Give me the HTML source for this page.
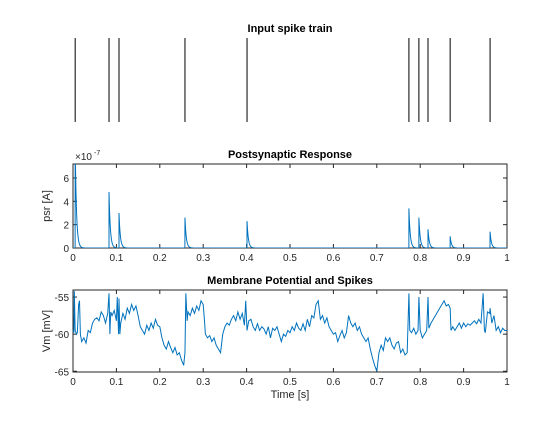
<!DOCTYPE html>
<html><head><meta charset="utf-8"><style>
body{margin:0;background:#fff;font-family:"Liberation Sans",sans-serif}
svg text{font-family:"Liberation Sans",sans-serif}
</style></head><body>
<svg id="fig" width="560" height="420" xmlns="http://www.w3.org/2000/svg">
<rect width="560" height="420" fill="#fff"/>
</svg>
<script>
const spikeTimes=[0.005,0.083,0.106,0.258,0.401,0.774,0.797,0.818,0.869,0.961];
const psrAmps=[9,4.8,3.0,2.6,2.3,3.4,2.6,1.6,1.0,1.4];
const xTicks=[0,0.1,0.2,0.3,0.4,0.5,0.6,0.7,0.8,0.9,1];
const psrTicks=[0,2,4,6];
const vmTicks=[-65,-60,-55];
const vmT=[
0,0.002,0.003,0.005,0.008,0.01,0.013,0.015,0.017,0.02,
0.025,0.03,0.035,0.04,0.045,0.05,0.055,0.06,0.065,0.07,
0.075,0.08,0.083,0.085,0.087,0.09,0.095,0.1,0.102,0.105,
0.106,0.108,0.11,0.115,0.12,0.125,0.13,0.135,0.14,0.145,
0.15,0.155,0.16,0.165,0.17,0.175,0.18,0.185,0.19,0.195,
0.2,0.205,0.21,0.215,0.22,0.225,0.23,0.235,0.24,0.245,
0.25,0.255,0.258,0.26,0.263,0.265,0.27,0.275,0.28,0.285,
0.29,0.295,0.3,0.303,0.305,0.31,0.315,0.32,0.325,0.33,
0.335,0.34,0.345,0.35,0.355,0.36,0.365,0.37,0.375,0.38,
0.385,0.39,0.395,0.398,0.401,0.405,0.41,0.415,0.42,0.425,
0.43,0.435,0.44,0.445,0.45,0.455,0.46,0.465,0.47,0.475,
0.48,0.485,0.49,0.495,0.5,0.505,0.51,0.515,0.52,0.525,
0.53,0.535,0.54,0.545,0.55,0.555,0.56,0.565,0.57,0.575,
0.58,0.585,0.59,0.595,0.6,0.605,0.61,0.615,0.62,0.625,
0.63,0.635,0.64,0.645,0.65,0.655,0.66,0.665,0.67,0.675,
0.68,0.685,0.69,0.695,0.7,0.705,0.71,0.715,0.72,0.725,
0.73,0.735,0.74,0.745,0.75,0.755,0.76,0.765,0.77,0.774,
0.776,0.78,0.785,0.79,0.795,0.797,0.8,0.805,0.81,0.815,
0.818,0.82,0.825,0.83,0.835,0.84,0.845,0.85,0.855,0.86,
0.865,0.869,0.871,0.875,0.88,0.885,0.89,0.895,0.9,0.905,
0.91,0.915,0.92,0.925,0.93,0.935,0.94,0.945,0.948,0.95,
0.955,0.96,0.961,0.965,0.97,0.975,0.98,0.985,0.99,0.995,
1];
const vmV=[
-59.5,-59.8,-54.2,-59.5,-60,-59.8,-56,-55.5,-60,-61,
-60.5,-61.2,-59.5,-59.8,-58.5,-58,-57.8,-58.2,-57,-57.5,
-58.5,-57.2,-54.5,-60,-57,-57.5,-56.8,-58.2,-55,-60,
-55.2,-60,-58.5,-57.2,-58,-56.5,-57.2,-56,-56.8,-56.2,
-57.5,-59,-59.5,-60,-58.8,-59.5,-58.5,-59.2,-58,-58.8,
-59,-60.5,-61.5,-62,-61,-61.8,-62.5,-61.8,-62.8,-62.5,
-63.5,-64.2,-62.5,-54.5,-58.2,-57,-57.5,-56.5,-57.2,-56.2,
-56.8,-55.5,-56,-58.2,-60,-60.5,-60.2,-61,-60.5,-61.5,
-62,-62.5,-60,-59,-58.5,-58.8,-58,-57.5,-58.2,-57,
-58,-57.2,-58.8,-55.5,-59.5,-58.2,-58,-59,-59.5,-58.6,
-59.5,-59,-59.3,-60,-59,-60.5,-59.2,-59.5,-59,-60,
-61,-60,-60.3,-59.5,-59.8,-59,-59.5,-58.5,-59.2,-59.5,
-58.6,-59.5,-58,-59,-57.5,-57.8,-56,-55.5,-58,-57.5,
-58.5,-57.8,-59,-59.5,-60,-59.8,-61,-60.2,-59.5,-60.5,
-59.8,-57.5,-58.5,-59,-58.5,-59.5,-59,-60,-60.5,-61,
-60.5,-62,-63.2,-64.2,-65,-62.5,-61.5,-62.2,-60.5,-61,
-60.5,-61.5,-62,-61.2,-61,-62.5,-62,-62.8,-62.5,-54.5,
-59.5,-59.8,-59.2,-60,-59.5,-55,-59.5,-60.5,-60,-59.5,
-55,-59.2,-58.5,-58,-57.5,-57,-56.5,-56,-55.5,-56.2,
-56,-56.5,-59.5,-59,-59.5,-59,-58.5,-59.2,-58.5,-59,
-58.6,-58.8,-58.5,-58.2,-58.6,-58,-58.5,-54.5,-59.5,-59.8,
-57,-57.2,-56.5,-58.5,-57.5,-59.5,-59,-59.8,-59.2,-59.5,
-59.5];

const svg=document.getElementById('fig');
const NS='http://www.w3.org/2000/svg';
function el(tag,attrs,parent){const e=document.createElementNS(NS,tag);for(const k in attrs)e.setAttribute(k,attrs[k]);(parent||svg).appendChild(e);return e;}
const X0=73,X1=507;
const xs=t=>X0+(X1-X0)*t;
const BLUE='#0072bd';

let g=el('g',{});


let t=el('text',{x:290,y:32,'text-anchor':'middle','font-size':'11','font-weight':'bold',fill:'#000'},g);
t.textContent='Input spike train';


spikeTimes.forEach((s,i)=>{const l=el('line',{x1:xs(s),x2:xs(s),y1:38,y2:122,stroke:'#000','stroke-width':1},g);

});

function axes(name,top,bot,ymin,ymax,yt,ylabelTxt,titleTxt){
  const ys=v=>bot-(v-ymin)/(ymax-ymin)*(bot-top);
  const gg=el('g',{});
  
  
  const tt=el('text',{x:290,y:top-6,'text-anchor':'middle','font-size':'11','font-weight':'bold',fill:'#000'},gg);
  tt.textContent=titleTxt;
  
  
  el('rect',{x:X0,y:top,width:X1-X0,height:bot-top,fill:'none',stroke:'#262626','stroke-width':1},gg);
  xTicks.forEach(v=>{const x=xs(v);
    el('line',{x1:x,x2:x,y1:bot,y2:bot-4,stroke:'#262626'},gg);
    el('line',{x1:x,x2:x,y1:top,y2:top+4,stroke:'#262626'},gg);
    const lb=el('text',{x:x,y:bot+13,'text-anchor':'middle','font-size':'10',fill:'#262626'},gg);
    lb.textContent=String(v);
    
    });
  yt.forEach(v=>{const y=ys(v);
    el('line',{x1:X0,x2:X0+4,y1:y,y2:y,stroke:'#262626'},gg);
    el('line',{x1:X1,x2:X1-4,y1:y,y2:y,stroke:'#262626'},gg);
    const lb=el('text',{x:X0-4,y:y+4,'text-anchor':'end','font-size':'10',fill:'#262626'},gg);
    lb.textContent=String(v);
    
    });
  const yl=el('text',{x:0,y:0,'text-anchor':'middle','font-size':'11',fill:'#262626',transform:`translate(${X0-23},${(top+bot)/2}) rotate(-90)`},gg);
  yl.textContent=ylabelTxt;
  
  
  return {gg,ys};
}

let m=axes('psr-panel',164,248,0,7.2,psrTicks,'psr [A]','Postsynaptic Response');
const ex=el('text',{x:75,y:160,'font-size':'10',fill:'#262626'},m.gg);
ex.textContent='×10';


const ex2=el('text',{x:94,y:155,'font-size':'7',fill:'#262626'},m.gg);
ex2.textContent='-7';
let samp=[];
const N=(X1-X0)*8;
for(let px=0;px<=N;px++)samp.push(px/N);
spikeTimes.forEach(s=>samp.push(s));
samp.sort((a,b)=>a-b);
let pts=[];
samp.forEach(tt=>{let v=0;
  spikeTimes.forEach((s,i)=>{if(tt>=s)v+=psrAmps[i]*Math.exp(-(tt-s)/0.003);});
  pts.push(xs(tt).toFixed(2)+','+Math.max(163,m.ys(v)).toFixed(2));});
const cp=el('clipPath',{id:'c1'});el('rect',{x:X0,y:164,width:X1-X0,height:84},cp);
const pl=el('polyline',{points:pts.join(' '),fill:'none',stroke:BLUE,'stroke-width':1,'clip-path':'url(#c1)'},m.gg);



let b=axes('vm-panel',290,372,-65.1,-54.05,vmTicks,'Vm [mV]','Membrane Potential and Spikes');
const n=Math.min(vmT.length,vmV.length);
let vp=[];
for(let i=0;i<n;i++)vp.push(xs(vmT[i]).toFixed(2)+','+b.ys(vmV[i]).toFixed(2));
const vl=el('polyline',{points:vp.join(' '),fill:'none',stroke:BLUE,'stroke-width':1},b.gg);


const xl=el('text',{x:290,y:398,'text-anchor':'middle','font-size':'11',fill:'#262626'},b.gg);
xl.textContent='Time [s]';


</script>
</body></html>
